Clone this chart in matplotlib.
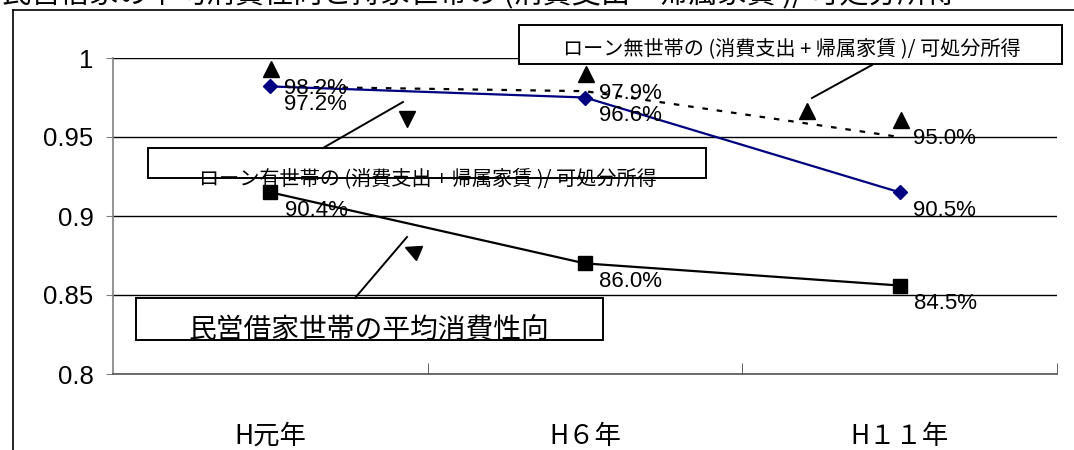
import matplotlib
matplotlib.use("Agg")
import matplotlib.pyplot as plt
from matplotlib import font_manager
from matplotlib.lines import Line2D
from matplotlib.patches import Rectangle
from matplotlib.markers import MarkerStyle
from matplotlib.transforms import Affine2D, offset_copy

# data
categories = ["H元年", "H６年", "H１１年"]
loan_nashi = [0.982, 0.979, 0.950]      # dashed, triangle markers
loan_ari = [0.982, 0.975, 0.915]        # navy, diamonds
minei = [0.915, 0.870, 0.856]           # black, squares
loan_nashi_labels = ["98.2%", "97.9%", "95.0%"]
loan_ari_labels = ["97.2%", "96.6%", "90.5%"]
minei_labels = ["90.4%", "86.0%", "84.5%"]
yticks = [0.8, 0.85, 0.9, 0.95, 1.0]
ytick_labels = ["0.8", "0.85", "0.9", "0.95", "1"]

title = "民営借家の平均消費性向と持家世帯の (消費支出 + 帰属家賃 )/ 可処分所得"
box_nashi = "ローン無世帯の (消費支出 + 帰属家賃 )/ 可処分所得"
box_ari = "ローン有世帯の (消費支出 + 帰属家賃 )/ 可処分所得"
box_minei = "民営借家世帯の平均消費性向"

names = {f.name for f in font_manager.fontManager.ttflist}
num_font = "Liberation Sans Narrow" if "Liberation Sans Narrow" in names else "Liberation Sans"
FAM = ["Liberation Sans", "Noto Sans CJK JP", "DejaVu Sans"]
NUM = [num_font, "DejaVu Sans"]
JP = ["Noto Sans CJK JP", "DejaVu Sans"]

W, H = 1074, 450
fig = plt.figure(figsize=(W / 100, H / 100), dpi=100)


def fx(x, y):
    return x / W, 1 - y / H


ax_l, ax_r, ax_t, ax_b = 113, 1057, 58, 374
ax = fig.add_axes([ax_l / W, 1 - ax_b / H, (ax_r - ax_l) / W, (ax_b - ax_t) / H])

x = list(range(len(categories)))

ax.plot(x, loan_nashi, color="black", lw=1.6, ls=(0, (2.5, 4)), zorder=3)
tri_tr = offset_copy(ax.transData, fig=fig, x=1, y=17, units="dots")
ax.plot(x, loan_nashi, ls="none", marker="^", ms=11, color="black",
        transform=tri_tr, zorder=4)
ax.plot(x, loan_ari, color="#000080", lw=1.6, marker="D", ms=7,
        mfc="#000080", mec="#000080", zorder=5)
ax.plot(x, minei, color="black", lw=1.6, marker="s", ms=10, zorder=5)

for xi, v, s in zip(x, loan_nashi, loan_nashi_labels):
    ax.annotate(s, (xi, v), xytext=(45, -2), textcoords="offset pixels",
                ha="center", va="center", fontsize=16, family=NUM, zorder=6)
for xi, v, s in zip(x, loan_ari, loan_ari_labels):
    ax.annotate(s, (xi, v), xytext=(45, -18), textcoords="offset pixels",
                ha="center", va="center", fontsize=16, family=NUM, zorder=6)
for xi, v, s in zip(x, minei, minei_labels):
    ax.annotate(s, (xi, v), xytext=(46, -18), textcoords="offset pixels",
                ha="center", va="center", fontsize=16, family=NUM, zorder=6)

ax.set_xlim(-0.5, len(categories) - 0.5)
ax.set_ylim(0.8, 1.0)
ax.set_yticks(yticks)
ax.set_yticklabels(ytick_labels, family=FAM, fontsize=18.5)
ax.grid(axis="y", color="black", lw=1)
ax.set_axisbelow(True)
ax.set_xticks(x)
ax.set_xticklabels(categories, family=JP, fontsize=19)
ax.tick_params(axis="x", length=0, pad=35)
ax.set_xticks([i + 0.5 for i in x], minor=True)
ax.tick_params(axis="x", which="minor", direction="in", length=8, color="#444444")
ax.tick_params(axis="y", length=5, color="#808080", pad=9)
ax.spines["top"].set_visible(False)
ax.spines["right"].set_visible(False)
ax.spines["left"].set_color("#808080")
ax.spines["bottom"].set_color("#555555")
ax.spines["left"].set_linewidth(1.2)
ax.spines["bottom"].set_linewidth(1.2)

# outer chart frame, cut at the top
fig.add_artist(Line2D([13 / W, 13 / W], [0, 1 - 9.5 / H], color="black", lw=1.2))
fig.add_artist(Line2D([13 / W, 1], [1 - 9.5 / H, 1 - 9.5 / H], color="black", lw=1.2))
fig.text(*fx(2, -5), title, family=JP, fontsize=21, ha="left", va="center")


def box(x0, y0, x1, y1):
    fig.add_artist(Rectangle(fx(x0, y1), (x1 - x0) / W, (y1 - y0) / H,
                             transform=fig.transFigure, facecolor="white",
                             edgecolor="black", lw=1.4, zorder=7))


def callout(p0, p1):
    fig.add_artist(Line2D([p0[0] / W, p1[0] / W], [1 - p0[1] / H, 1 - p1[1] / H],
                          color="black", lw=1.4, zorder=7))


def head(p, marker, rot=0):
    m = MarkerStyle(marker, transform=Affine2D().rotate_deg(rot))
    fig.add_artist(Line2D([p[0] / W], [1 - p[1] / H], marker=m, ms=11,
                          color="black", ls="none", zorder=8))


box(519, 25, 1062, 64)
fig.text(*fx(792, 50), box_nashi, family=JP, fontsize=14.5, ha="center",
         va="center", zorder=9)
callout((872, 65), (812, 98))
head((807, 111), "^")

box(148, 148, 706, 178)
fig.text(*fx(428, 180), box_ari, family=JP, fontsize=14.5, ha="center",
         va="center", zorder=9)
callout((323, 148), (403, 102))
head((407, 119), "v")

box(136, 298, 603, 340)
fig.text(*fx(369, 331), box_minei, family=JP, fontsize=20, ha="center",
         va="center", zorder=9)
callout((355, 298), (407, 237))
head((412, 250), "<", -25)

fig.savefig("out.png", dpi=100)
